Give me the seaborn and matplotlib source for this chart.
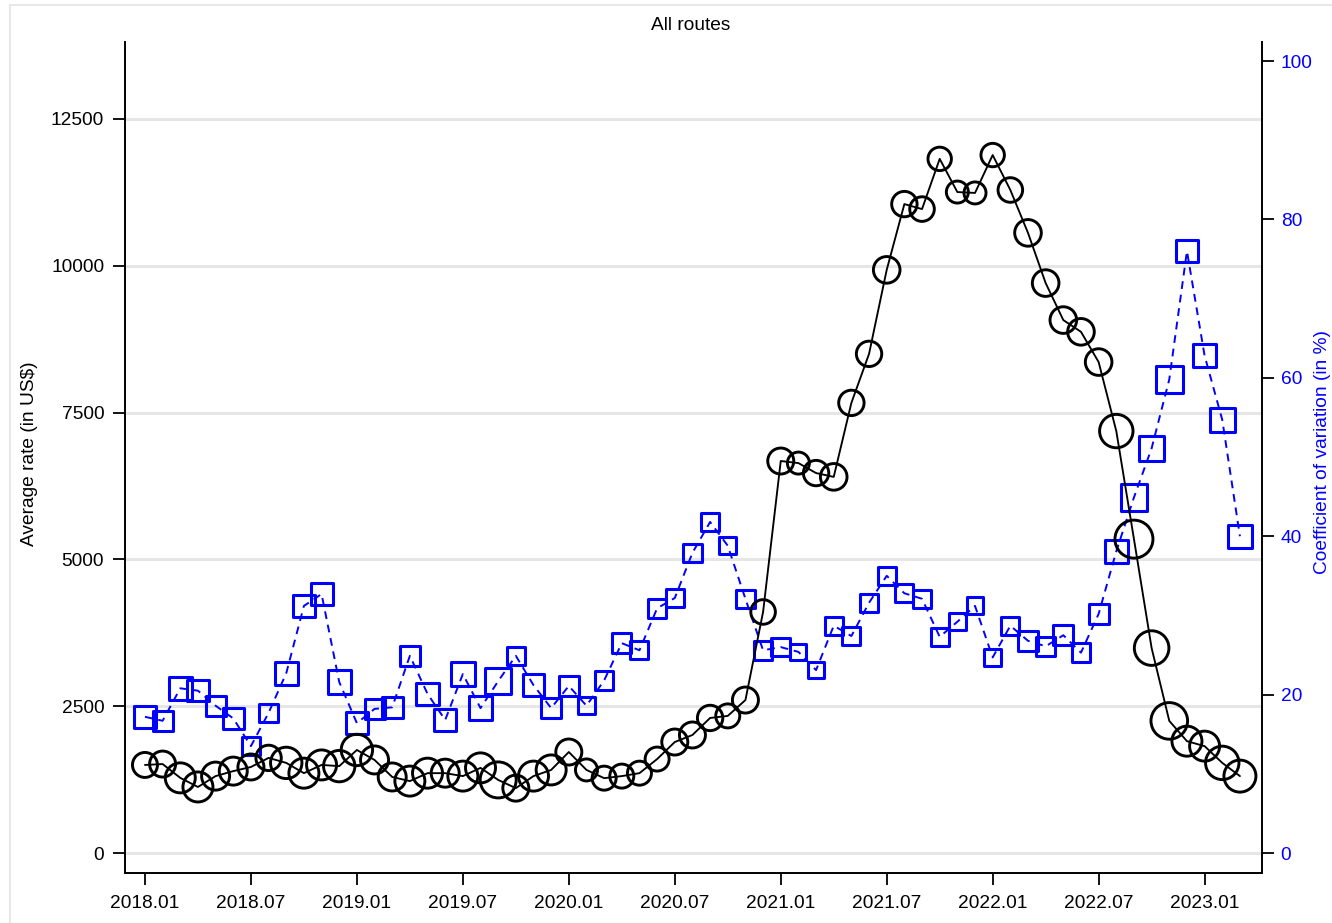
## Average rate and coefficient of variation, all routes - twin-axis line chart ###

import matplotlib
matplotlib.use("Agg")
import matplotlib.pyplot as plt
from matplotlib.lines import Line2D
from matplotlib.patches import Rectangle
import seaborn as sns

# Monthly data, 2018.01 - 2023.03
months = [f"{y}.{m:02d}" for y in range(2018, 2024) for m in range(1, 13)][:63]

avg_rate = [1500, 1515, 1280, 1125, 1310, 1395, 1465, 1620, 1535, 1360,
            1500, 1480, 1755, 1585, 1295, 1225, 1360, 1360, 1310, 1450,
            1245, 1105, 1310, 1415, 1720, 1415, 1275, 1310, 1360, 1600,
            1890, 2010, 2300, 2335, 2605, 4105, 6675, 6640, 6470, 6405,
            7665, 8500, 9930, 11050, 10965, 11820, 11255, 11240, 11885, 11290,
            10560, 9705, 9075, 8875, 8360, 7185, 5345, 3490, 2250, 1905,
            1820, 1535, 1310]

cv_pct = [17.2, 16.7, 20.8, 20.5, 18.6, 17.0, 13.5, 17.7, 22.7, 31.2,
          32.7, 21.6, 16.4, 18.2, 18.4, 24.9, 20.1, 16.8, 22.6, 18.3,
          21.7, 24.9, 21.2, 18.3, 21.1, 18.6, 21.8, 26.5, 25.6, 30.9,
          32.2, 37.9, 41.8, 38.8, 32.1, 25.6, 26.0, 25.4, 23.1, 28.7,
          27.4, 31.6, 35.0, 32.8, 32.1, 27.3, 29.2, 31.2, 24.7, 28.7,
          26.8, 26.1, 27.5, 25.3, 30.2, 38.1, 44.9, 51.1, 59.8, 76.0,
          62.8, 54.7, 40.0]

# marker weights (relative)
rate_weight = [156, 169, 225, 225, 196, 196, 169, 161, 246, 225,
               225, 246, 246, 196, 196, 225, 225, 196, 225, 225,
               324, 169, 225, 225, 169, 121, 144, 144, 144, 144,
               169, 169, 161, 144, 169, 151, 169, 121, 161, 177,
               161, 161, 177, 161, 151, 137, 121, 121, 137, 151,
               177, 177, 177, 177, 177, 279, 361, 299, 335, 225,
               225, 279, 256]

cv_weight = [121, 100, 137, 114, 100, 106, 86, 86, 137, 114,
             121, 137, 121, 100, 106, 106, 128, 121, 137, 137,
             177, 86, 114, 106, 94, 69, 86, 94, 81, 86,
             86, 86, 86, 69, 86, 86, 86, 64, 64, 81,
             81, 81, 81, 81, 81, 81, 72, 72, 72, 81,
             100, 86, 100, 86, 100, 137, 177, 161, 177, 121,
             137, 151, 137]

tick_labels = ["2018.01", "2018.07", "2019.01", "2019.07", "2020.01", "2020.07",
               "2021.01", "2021.07", "2022.01", "2022.07", "2023.01"]
left_ticks = [0, 2500, 5000, 7500, 10000, 12500]
right_ticks = [0, 20, 40, 60, 80, 100]

x = list(range(len(months)))
tick_pos = [months.index(t) for t in tick_labels]

sns.set_theme(style="white")
plt.rcParams['font.family'] = ['Liberation Sans', 'DejaVu Sans']
fs = 13.8

fig = plt.figure(figsize=(13.32, 9.23), dpi=100)
ax1 = fig.add_axes([125 / 1332, 50 / 923, 1137 / 1332, 831 / 923])
ax2 = ax1.twinx()
ax1.set_zorder(ax2.get_zorder() + 1)
ax1.patch.set_visible(False)

# px^2 -> pt^2
k = 2.0736

# blue series: coefficient of variation (right axis)
sns.lineplot(x=x, y=cv_pct, ax=ax2, color='blue', linewidth=1.4,
             linestyle=(0, (4, 3)), zorder=2)
sns.scatterplot(x=x, y=cv_pct, size=cv_weight,
                sizes=(k * min(cv_weight), k * max(cv_weight)),
                marker='s', facecolor='none', edgecolor='blue',
                linewidth=2.2, legend=False, ax=ax2, zorder=3)

# black series: average rate (left axis)
sns.lineplot(x=x, y=avg_rate, ax=ax1, color='black', linewidth=1.35, zorder=3)
sns.scatterplot(x=x, y=avg_rate, size=rate_weight,
                sizes=(k * min(rate_weight), k * max(rate_weight)),
                marker='o', facecolor='none', edgecolor='black',
                linewidth=2.1, legend=False, ax=ax1, zorder=2)

# horizontal grid at the left-axis ticks, behind everything
for yv in left_ticks:
    ax2.add_line(Line2D([0, 1], [yv, yv], transform=ax1.get_yaxis_transform(),
                        color='#e6e6e6', linewidth=2.2, zorder=0))

ax1.set_xlim(-1.13, 63.25)
ax1.set_ylim(-340, 13810)
ax2.set_ylim(-2.52, 102.4)

ax1.set_xticks(tick_pos)
ax1.set_xticklabels(tick_labels)
ax1.set_yticks(left_ticks)
ax1.set_yticklabels([str(t) for t in left_ticks])
ax2.set_yticks(right_ticks)
ax2.set_yticklabels([str(t) for t in right_ticks])
ax1.set_xlabel('')
ax1.set_ylabel('')
ax2.set_ylabel('')

ax1.tick_params(axis='x', direction='out', length=8.5, width=1.3, pad=7,
                labelsize=fs, colors='black', bottom=True)
ax1.tick_params(axis='y', direction='out', length=8.5, width=1.3, pad=6.5,
                labelsize=fs, colors='black', left=True)
ax2.tick_params(axis='y', direction='out', length=8.5, width=1.3, pad=5,
                labelsize=fs, right=True, color='black', labelcolor='blue')

for side in ['top', 'right']:
    ax1.spines[side].set_visible(False)
for side in ['top', 'left', 'bottom']:
    ax2.spines[side].set_visible(False)
for sp in [ax1.spines['left'], ax1.spines['bottom'], ax2.spines['right']]:
    sp.set_color('black')
    sp.set_linewidth(1.4)

# axis titles and subtitle
fig.text(30 / 1332, 1 - 454 / 923, 'Average rate (in US$)', rotation=90,
         ha='center', va='center', fontsize=fs, color='black')
fig.text(1331 / 1332, 1 - 452 / 923, 'Coefficient of variation (in %)', rotation=90,
         ha='right', va='center', fontsize=fs, color='blue')
fig.text(691 / 1332, 1 - 26 / 923, 'All routes', ha='center', va='center',
         fontsize=fs, color='black')

# light outline of the graph region
fig.add_artist(Rectangle((10 / 1332, -0.1), 1.5, 1.1 - 5 / 923, transform=fig.transFigure,
                         fill=False, edgecolor='#e8e8e8', linewidth=1.5))

fig.savefig('out.png', dpi=100)
